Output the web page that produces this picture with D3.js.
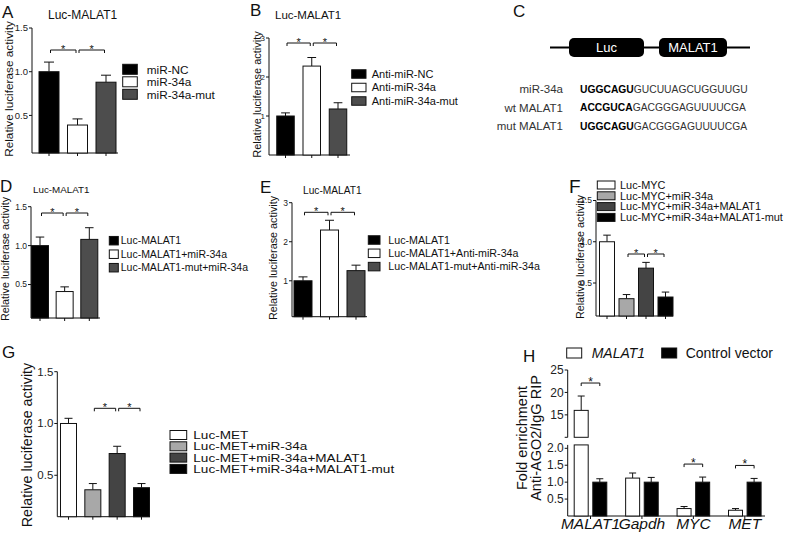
<!DOCTYPE html>
<html>
<head>
<meta charset="utf-8">
<script src="https://cdn.jsdelivr.net/npm/d3@7"></script>
<style>
  body { margin: 0; background: #fff; }
  svg { display: block; }
  text { font-family: Arial, "Liberation Sans", sans-serif; fill: #111; }
</style>
</head>
<body>
<svg id="chart" width="788" height="542"></svg>
<script>
// ---- data ----
const aLabels = ['miR-NC', 'miR-34a', 'miR-34a-mut'];
const aValues = [1.0, 0.39, 0.88];
const aErrors = [0.11, 0.07, 0.08];
const aTicks = [0.5, 1.0, 1.5];

const bLabels = ['Anti-miR-NC', 'Anti-miR-34a', 'Anti-miR-34a-mut'];
const bValues = [1.0, 2.28, 1.18];
const bErrors = [0.08, 0.22, 0.16];
const bTicks = [1, 2, 3];

const dLabels = ['Luc-MALAT1', 'Luc-MALAT1+miR-34a', 'Luc-MALAT1-mut+miR-34a'];
const dValues = [1.0, 0.41, 1.08];
const dErrors = [0.11, 0.06, 0.15];
const dTicks = [0.5, 1.0, 1.5];

const eLabels = ['Luc-MALAT1', 'Luc-MALAT1+Anti-miR-34a', 'Luc-MALAT1-mut+Anti-miR-34a'];
const eValues = [1.0, 2.3, 1.26];
const eErrors = [0.1, 0.25, 0.14];
const eTicks = [1, 2, 3];

const fLabels = ['Luc-MYC', 'Luc-MYC+miR-34a', 'Luc-MYC+miR-34a+MALAT1', 'Luc-MYC+miR-34a+MALAT1-mut'];
const fValues = [1.0, 0.31, 0.68, 0.33];
const fErrors = [0.08, 0.05, 0.07, 0.06];
const fTicks = [0.5, 1.0, 1.5];

const gLabels = ['Luc-MET', 'Luc-MET+miR-34a', 'Luc-MET+miR-34a+MALAT1', 'Luc-MET+miR-34a+MALAT1-mut'];
const gValues = [1.0, 0.36, 0.71, 0.38];
const gErrors = [0.05, 0.06, 0.07, 0.04];
const gTicks = [0.5, 1.0, 1.5];

const hGenes = ['MALAT1', 'Gapdh', 'MYC', 'MET'];
const hSeries = ['MALAT1', 'Control vector'];
const hMalat1 = [16.0, 1.12, 0.22, 0.17];
const hMalat1Err = [3.2, 0.15, 0.06, 0.05];
const hControl = [1.0, 1.0, 1.0, 1.0];
const hControlErr = [0.1, 0.14, 0.15, 0.11];
const hLowTicks = [0.5, 1.0, 1.5, 2.0];
const hHighTicks = [10, 15, 20, 25];
const hSig = ['MALAT1', 'MYC', 'MET'];

const cRows = ['miR-34a', 'wt MALAT1', 'mut MALAT1'];
const cSeed = ['UGGCAGU', 'ACCGUCA', 'UGGCAGU'];
const cRest = ['GUCUUAGCUGGUUGU', 'GACGGGAGUUUUCGA', 'GACGGGAGUUUUCGA'];
const cBoxes = ['Luc', 'MALAT1'];

const threeFills = ['#000', '#fff', '#4d4d4d'];
const fourFills = ['#fff', '#a8a8a8', '#444', '#000'];

const svg = d3.select('#chart');
const ink = '#111';

function panelLetter(txt, x, y, size = 17) {
    svg.append('text').attr('x', x).attr('y', y)
        .attr('font-size', size).text(txt);
}

// y axis drawn by hand: line + ticks + labels
function yAxisLeft(g, scale, ticks, axisX, fmt, size, from, to) {
    g.append('line').attr('x1', axisX).attr('x2', axisX)
        .attr('y1', scale(from)).attr('y2', scale(to)).attr('stroke', ink);
    g.selectAll(null).data(ticks).join('line')
        .attr('x1', axisX - 3).attr('x2', axisX)
        .attr('y1', d => scale(d)).attr('y2', d => scale(d)).attr('stroke', ink);
    g.selectAll(null).data(ticks).join('text')
        .attr('x', axisX - 4).attr('y', d => scale(d)).attr('dy', '0.34em')
        .attr('text-anchor', 'end').attr('font-size', size).style('fill', '#222')
        .text(d => fmt(d));
}

function barPanel(p) {
    const g = svg.append('g');
    const y = d3.scaleLinear().domain(p.yDomain).range(p.yRange);
    const x = d3.scalePoint().domain(p.labels).range(p.centers);
    const base = p.yRange[0];

    yAxisLeft(g, y, p.ticks, p.axisX, d3.format(p.fmt), p.tickSize, p.yDomain[0], p.yDomain[1]);

    // x axis
    g.append('line').attr('x1', p.axisX).attr('x2', p.axisEnd)
        .attr('y1', base).attr('y2', base).attr('stroke', ink);
    g.selectAll('.xt').data(p.labels).join('line').attr('class', 'xt')
        .attr('x1', d => x(d)).attr('x2', d => x(d))
        .attr('y1', base).attr('y2', base + 3).attr('stroke', ink);

    const rows = p.labels.map((l, i) => ({ l, v: p.values[i], e: p.errors[i], f: p.fills[i] }));
    const cap = p.barW * 0.25;
    // error bars
    g.selectAll('.err').data(rows).join('path').attr('class', 'err')
        .attr('fill', 'none').attr('stroke', ink)
        .attr('d', d => `M${x(d.l)},${y(d.v)}V${y(d.v + d.e)}M${x(d.l) - cap},${y(d.v + d.e)}H${x(d.l) + cap}`);
    // bars
    g.selectAll('.bar').data(rows).join('rect').attr('class', 'bar')
        .attr('x', d => x(d.l) - p.barW / 2).attr('width', p.barW)
        .attr('y', d => y(d.v)).attr('height', d => base - y(d.v))
        .attr('fill', d => d.f).attr('stroke', ink).attr('stroke-width', 1);

    // significance brackets
    p.sig.forEach(([i, j]) => {
        const x1 = x(p.labels[i]) + 1.5, x2 = x(p.labels[j]) - 1.5, sy = p.sigY;
        g.append('path').attr('fill', 'none').attr('stroke', ink)
            .attr('d', `M${x1},${sy + 3}V${sy}H${x2}V${sy + 3}`);
        g.append('text').attr('x', (x1 + x2) / 2).attr('y', sy + 3)
            .attr('text-anchor', 'middle').attr('font-size', 11).text('*');
    });

    // y label
    g.append('text')
        .attr('transform', `translate(${p.ylab[0]},${p.ylab[1]}) rotate(-90)`)
        .attr('text-anchor', 'middle').attr('dy', '0.35em')
        .attr('font-size', p.ylab[2]).text('Relative luciferase activity');

    if (p.title) {
        g.append('text').attr('x', p.title[0]).attr('y', p.title[1]).attr('dy', '0.35em')
            .attr('font-size', p.title[2]).text('Luc-MALAT1');
    }

    // legend
    const L = p.legend;
    const lg = g.selectAll('.lg').data(rows).join('g').attr('class', 'lg')
        .attr('transform', (d, i) => `translate(0,${L.y0 + i * L.dy})`);
    lg.append('rect').attr('x', L.x).attr('y', -L.h / 2).attr('width', L.w).attr('height', L.h)
        .attr('fill', d => d.f).attr('stroke', ink);
    lg.append('text').attr('transform', `translate(${L.tx},0) scale(${L.sx || 1},1)`)
        .attr('dy', '0.36em').attr('font-size', L.size).text(d => d.l);
}

// ---- A ----
panelLetter('A', 2, 18);
barPanel({
    labels: aLabels, values: aValues, errors: aErrors, fills: threeFills, ticks: aTicks, fmt: '.1f',
    yDomain: [0.07, 1.5], yRange: [153, 28], centers: [49, 106], barW: 20, axisX: 32, axisEnd: 118,
    tickSize: 9.5, sig: [[0, 1], [1, 2]], sigY: 50, ylab: [9, 89, 11.8], title: [48, 15, 12],
    legend: { x: 122.7, w: 14.6, h: 10, y0: 69.3, dy: 12.5, tx: 146.7, size: 11.8 }
});

// ---- B ----
panelLetter('B', 250, 16);
barPanel({
    labels: bLabels, values: bValues, errors: bErrors, fills: threeFills, ticks: bTicks, fmt: 'd',
    yDomain: [0, 3], yRange: [155, 38], centers: [285.5, 338], barW: 17.5, axisX: 269, axisEnd: 350,
    tickSize: 8, sig: [[0, 1], [1, 2]], sigY: 43, ylab: [256.7, 94.5, 11], title: [275, 15, 11.5],
    legend: { x: 351.7, w: 14.3, h: 8.5, y0: 74, dy: 13.5, tx: 371.7, size: 11 }
});

// ---- C ----
panelLetter('C', 513, 17);
const cx = d3.scalePoint().domain(cBoxes).range([606.5, 693]);
svg.append('line').attr('x1', 550).attr('x2', 750).attr('y1', 47.5).attr('y2', 47.5)
    .attr('stroke', '#000').attr('stroke-width', 2);
const boxW = { 'Luc': 75, 'MALAT1': 68 };
svg.selectAll('.cbox').data(cBoxes).join('rect').attr('class', 'cbox')
    .attr('x', d => cx(d) - boxW[d] / 2).attr('width', d => boxW[d])
    .attr('y', 38).attr('height', 19).attr('rx', 5).attr('fill', '#000');
svg.selectAll('.cboxt').data(cBoxes).join('text').attr('class', 'cboxt')
    .attr('x', d => cx(d)).attr('y', 47.5).attr('dy', '0.36em').attr('text-anchor', 'middle')
    .attr('font-family', 'Lato, sans-serif').attr('font-size', 13).style('fill', '#fff').text(d => d);
const cy = d3.scalePoint().domain(cRows).range([89, 126]);
svg.selectAll('.crow').data(cRows).join('text').attr('class', 'crow')
    .attr('x', 563).attr('y', d => cy(d)).attr('dy', '0.36em').attr('text-anchor', 'end')
    .attr('font-family', 'Lato, sans-serif').attr('font-size', 11.5).style('fill', '#333').text(d => d);
// seed (bold) and rest of each sequence in one text element
const seq = svg.selectAll('.cseq').data(cRows).join('text').attr('class', 'cseq')
    .attr('x', 580).attr('y', d => cy(d)).attr('dy', '0.36em')
    .attr('font-family', 'Lato, sans-serif').attr('font-size', 10.3).style('fill', '#333');
seq.append('tspan').attr('font-weight', 'bold').style('fill', '#000').text((d, i) => cSeed[i]);
seq.append('tspan').text((d, i) => cRest[i]);

// ---- D ----
panelLetter('D', 0, 192);
barPanel({
    labels: dLabels, values: dValues, errors: dErrors, fills: threeFills, ticks: dTicks, fmt: '.1f',
    yDomain: [0.07, 1.5], yRange: [318, 206.7], centers: [40, 89.3], barW: 17, axisX: 31, axisEnd: 100,
    tickSize: 8.5, sig: [[0, 1], [1, 2]], sigY: 213, ylab: [5, 259, 10.8], title: [33, 190, 9.8],
    legend: { x: 109.3, w: 9, h: 8.5, y0: 240.7, dy: 13.5, tx: 120.7, size: 10.5 }
});

// ---- E ----
panelLetter('E', 260, 193);
barPanel({
    labels: eLabels, values: eValues, errors: eErrors, fills: threeFills, ticks: eTicks, fmt: 'd',
    yDomain: [0.08, 3], yRange: [316.7, 202.7], centers: [303, 356], barW: 18, axisX: 292, axisEnd: 367,
    tickSize: 8.5, sig: [[0, 1], [1, 2]], sigY: 212.3, ylab: [273.3, 258, 10.8], title: [303, 190, 10.2],
    legend: { x: 368.3, w: 11.7, h: 8.5, y0: 240, dy: 13.3, tx: 388.3, size: 10.7 }
});

// ---- F ----
panelLetter('F', 569, 193, 19);
barPanel({
    labels: fLabels, values: fValues, errors: fErrors, fills: fourFills, ticks: fTicks, fmt: '.1f',
    yDomain: [0.1, 1.5], yRange: [316, 200.5], centers: [607, 665.5], barW: 15, axisX: 596, axisEnd: 673,
    tickSize: 8.5, sig: [[1, 2], [2, 3]], sigY: 254, ylab: [580, 257, 10.8], title: null,
    legend: { x: 597.3, w: 17.7, h: 8, y0: 185, dy: 10.8, tx: 620, size: 10.5, sx: 1.04 }
});

// ---- G ----
panelLetter('G', 2, 358);
barPanel({
    labels: gLabels, values: gValues, errors: gErrors, fills: fourFills, ticks: gTicks, fmt: '.1f',
    yDomain: [0.1, 1.5], yRange: [516.7, 371.7], centers: [68.5, 141.5], barW: 16, axisX: 57.3, axisEnd: 150,
    tickSize: 11.5, sig: [[1, 2], [2, 3]], sigY: 408.3, ylab: [27, 445, 14.3], title: null,
    legend: { x: 170, w: 16.7, h: 9, y0: 435, dy: 11.3, tx: 193.3, size: 11.5, sx: 1.18 }
});

// ---- H ----
panelLetter('H', 523, 362);
(function () {
    const g = svg.append('g');
    const axisX = 567.7;
    const yLow = d3.scaleLinear().domain([0, 2]).range([516, 448.3]);
    const yHigh = d3.scaleLinear().domain([10, 25]).range([437.3, 370]);
    const lowTop = yLow(2.1);
    const x = d3.scalePoint().domain(hGenes).range([590.5, 744.8]);
    const off = 9.3, w = 14;

    // broken y axis: lower segment 0-2, upper segment 10-25
    yAxisLeft(g, yLow, hLowTicks, axisX, d3.format('.1f'), 12, 0, 2.1);
    yAxisLeft(g, yHigh, hHighTicks, axisX, d => (d === 10 ? '' : String(d)), 12, 10, 25);

    g.append('line').attr('x1', axisX).attr('x2', 765).attr('y1', yLow(0)).attr('y2', yLow(0)).attr('stroke', ink);
    g.selectAll('.xt').data(hGenes).join('line').attr('class', 'xt')
        .attr('x1', d => x(d)).attr('x2', d => x(d)).attr('y1', yLow(0)).attr('y2', yLow(0) + 3).attr('stroke', ink);
    g.selectAll('.xl').data(hGenes).join('text').attr('class', 'xl')
        .attr('x', d => x(d)).attr('y', 528.5).attr('text-anchor', 'middle')
        .attr('font-size', 15.5).attr('font-style', 'italic').text(d => d);

    const bars = [];
    hGenes.forEach((gene, i) => {
        bars.push({ gene, cx: x(gene) - off, v: hMalat1[i], e: hMalat1Err[i], f: '#fff' });
        bars.push({ gene, cx: x(gene) + off, v: hControl[i], e: hControlErr[i], f: '#000' });
    });
    const cap = w * 0.25;
    bars.forEach(b => {
        if (b.v > 2) {
            // broken bar: top part on the upper scale, remainder on the lower scale
            g.append('path').attr('fill', 'none').attr('stroke', ink)
                .attr('d', `M${b.cx},${yHigh(b.v)}V${yHigh(b.v + b.e)}M${b.cx - cap},${yHigh(b.v + b.e)}H${b.cx + cap}`);
            g.append('rect').attr('x', b.cx - w / 2).attr('width', w)
                .attr('y', yHigh(b.v)).attr('height', yHigh(10) - yHigh(b.v))
                .attr('fill', b.f).attr('stroke', ink);
            g.append('rect').attr('x', b.cx - w / 2).attr('width', w)
                .attr('y', lowTop).attr('height', yLow(0) - lowTop)
                .attr('fill', b.f).attr('stroke', ink);
        } else {
            g.append('path').attr('fill', 'none').attr('stroke', ink)
                .attr('d', `M${b.cx},${yLow(b.v)}V${yLow(b.v + b.e)}M${b.cx - cap},${yLow(b.v + b.e)}H${b.cx + cap}`);
            g.append('rect').attr('x', b.cx - w / 2).attr('width', w)
                .attr('y', yLow(b.v)).attr('height', yLow(0) - yLow(b.v))
                .attr('fill', b.f).attr('stroke', ink);
        }
    });

    // brackets
    hSig.forEach(gene => {
        const i = hGenes.indexOf(gene);
        const top = hMalat1[i] > 2 ? yHigh(hMalat1[i] + hMalat1Err[i]) : yLow(Math.max(hMalat1[i] + hMalat1Err[i], hControl[i] + hControlErr[i]));
        const sy = top - 13;
        const x1 = x(gene) - off, x2 = x(gene) + off;
        g.append('path').attr('fill', 'none').attr('stroke', ink)
            .attr('d', `M${x1},${sy + 3}V${sy}H${x2}V${sy + 3}`);
        g.append('text').attr('x', (x1 + x2) / 2).attr('y', sy + 3).attr('text-anchor', 'middle')
            .attr('font-size', 12).text('*');
    });

    // y label (two lines)
    g.append('text').attr('transform', 'translate(522,438) rotate(-90)')
        .attr('text-anchor', 'middle').attr('dy', '0.35em').attr('font-size', 14.5).text('Fold enrichment');
    g.append('text').attr('transform', 'translate(536,438) rotate(-90)')
        .attr('text-anchor', 'middle').attr('dy', '0.35em').attr('font-size', 14.5).text('Anti-AGO2/IgG RIP');

    // legend
    const legX = [566.7, 661.7];
    const lg = g.selectAll('.hlg').data(hSeries).join('g').attr('class', 'hlg')
        .attr('transform', (d, i) => `translate(${legX[i]},353)`);
    lg.append('rect').attr('y', -5).attr('width', 15).attr('height', 10)
        .attr('fill', (d, i) => i ? '#000' : '#fff').attr('stroke', ink);
    lg.append('text').attr('x', (d, i) => i ? 24 : 25).attr('dy', '0.36em').attr('font-size', 14)
        .attr('font-style', (d, i) => i ? 'normal' : 'italic').text(d => d);
})();
</script>
</body>
</html>
